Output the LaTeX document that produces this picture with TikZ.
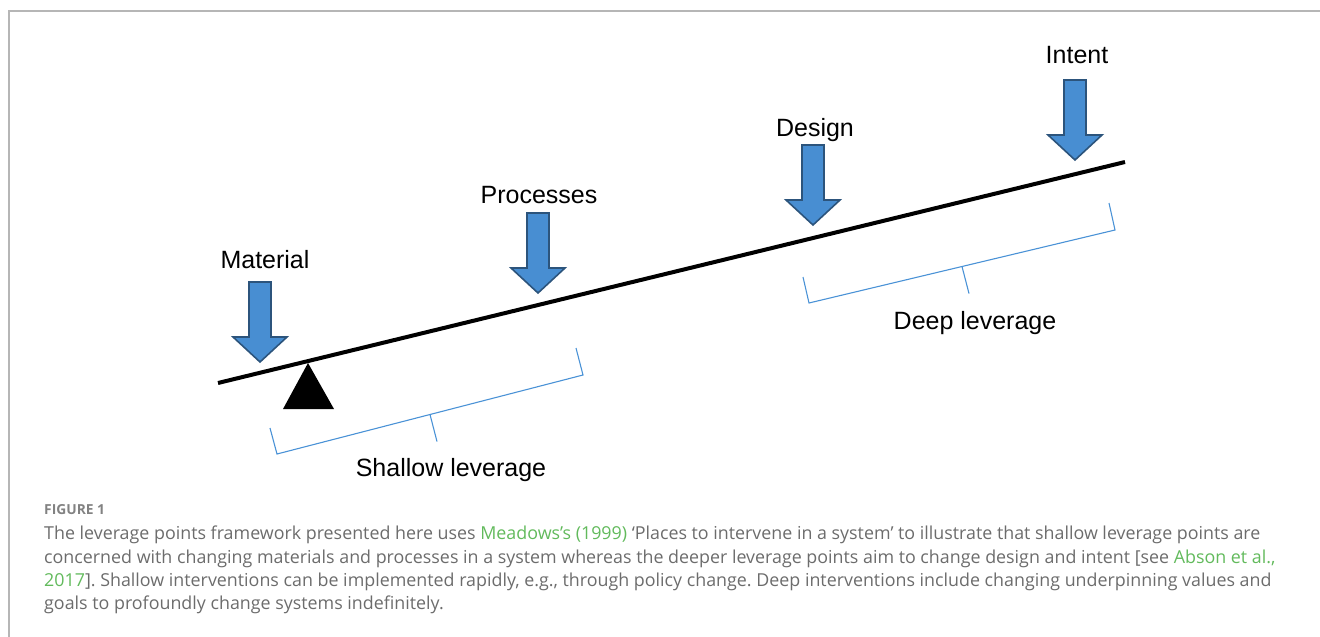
\documentclass[tikz,border=0pt]{standalone}
\usepackage{fontspec}
\setmainfont{Liberation Sans}
\newfontfamily\capfont{Open Sans}
\usetikzlibrary{calc}
\definecolor{arrowfill}{RGB}{72,142,210}
\definecolor{arrowedge}{RGB}{44,84,124}
\definecolor{bracketblue}{RGB}{74,146,214}
\definecolor{framegray}{RGB}{182,182,182}
\definecolor{capgray}{RGB}{108,108,108}
\definecolor{linkgreen}{RGB}{98,186,92}
\newcommand{\lnk}[1]{\textcolor{linkgreen}{#1}}
\frenchspacing
\tikzset{
  x=1pt, y=-1pt,
  arrowstyle/.style={fill=arrowfill, draw=arrowedge, line width=1.6pt, line join=miter},
  levarrow/.pic={\path[arrowstyle] (0,0) -- (-27,-25) -- (-11,-25) -- (-11,-80) -- (11,-80) -- (11,-25) -- (27,-25) -- cycle;},
  beamline/.style={line width=4pt},
  bracketline/.style={draw=bracketblue, line width=1.1pt},
  lbl/.style={anchor=base, inner sep=0pt, font=\fontsize{25}{30}\selectfont},
  captext/.style={anchor=base west, inner sep=0pt, text=capgray, font=\capfont\fontsize{17.85}{20}\selectfont},
  frameline/.style={draw=framegray, line width=2pt}
}
\begin{document}
\begin{tikzpicture}
\useasboundingbox (0,0) rectangle (1320,637);
% frame
\coordinate (f1) at (9,637);
\coordinate (f2) at (9,11);
\coordinate (f3) at (1320,11);
\draw[frameline] (f1) -- (f2) -- (f3);
% beam
\coordinate (beamL) at (218,383);
\coordinate (beamR) at (1125,162);
\draw[beamline] (beamL) -- (beamR);
% fulcrum
\coordinate (fA) at (308,363);
\coordinate (fB) at (283,409);
\coordinate (fC) at (334,409);
\fill (fA) -- (fB) -- (fC) -- cycle;
% arrows
\pic at (260,362) {levarrow};
\pic at (538,293) {levarrow};
\pic at (813,225) {levarrow};
\pic at (1075,160) {levarrow};
% labels
\node[lbl] (material) at (265,268) {Material};
\node[lbl] (processes) at (539,203) {Processes};
\node[lbl] (design) at (815,136) {Design};
\node[lbl] (intent) at (1077,63) {Intent};
% shallow bracket
\coordinate (sA) at (270,428);
\coordinate (sB) at (277,454);
\coordinate (sC) at (583,375);
\coordinate (sD) at (576,348);
\coordinate (sM) at ($(sB)!0.5!(sC)$);
\coordinate (sT) at ($(sM)+(7,27)$);
\draw[bracketline] (sA) -- (sB) -- (sC) -- (sD);
\draw[bracketline] (sM) -- (sT);
\node[lbl] (shallow) at (451,476) {Shallow leverage};
% deep bracket
\coordinate (dA) at (803,277);
\coordinate (dB) at (809,303);
\coordinate (dC) at (1115,230);
\coordinate (dD) at (1109,203);
\coordinate (dM) at ($(dB)!0.5!(dC)$);
\coordinate (dT) at ($(dM)+(7,27)$);
\draw[bracketline] (dA) -- (dB) -- (dC) -- (dD);
\draw[bracketline] (dM) -- (dT);
\node[lbl] (deep) at (975,329) {Deep leverage};
% caption
\node[captext, font=\capfont\bfseries\fontsize{13.8}{16}\selectfont, text=capgray!85] (fig) at (44,514) {FIGURE 1};
\node[captext] (c1) at (44,539) {The leverage points framework presented here uses \lnk{Meadows’s (1999)} ‘Places to intervene in a system’ to illustrate that shallow leverage points are};
\node[captext] (c2) at (44,563) {concerned with changing materials and processes in a system whereas the deeper leverage points aim to change design and intent [see \lnk{Abson et al.,}};
\node[captext] (c3) at (44,586) {\lnk{2017}]. Shallow interventions can be implemented rapidly, e.g., through policy change. Deep interventions include changing underpinning values and};
\node[captext] (c4) at (44,609) {goals to profoundly change systems indefinitely.};
\end{tikzpicture}
\end{document}
